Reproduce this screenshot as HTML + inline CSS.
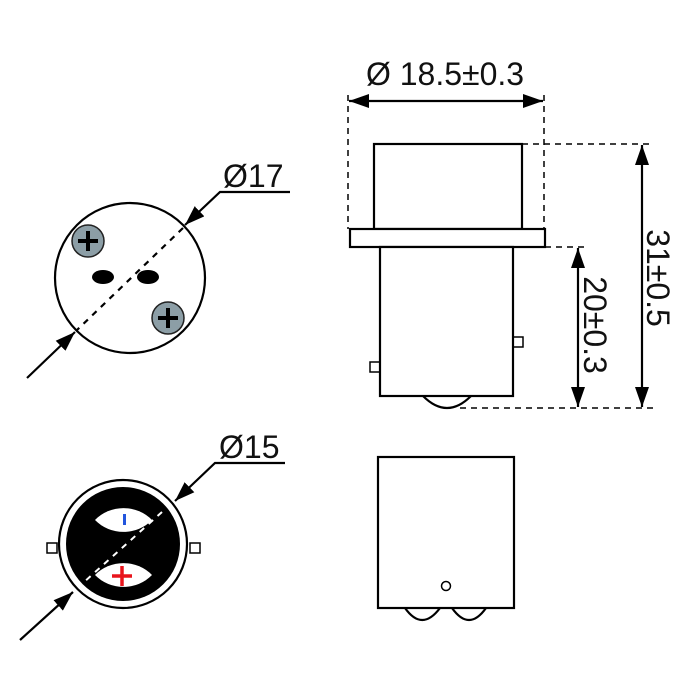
<!DOCTYPE html>
<html><head><style>body{margin:0;background:#fff}svg{display:block}text{font-family:"Liberation Sans",sans-serif;fill:#111}</style></head>
<body>
<svg width="700" height="700" viewBox="0 0 700 700" xmlns="http://www.w3.org/2000/svg">
<defs>
<marker id="b" viewBox="0 0 20 14" refX="20" refY="7" markerWidth="20" markerHeight="14" markerUnits="userSpaceOnUse" orient="auto-start-reverse"><path d="M0,0 L20,7 L0,14 z" fill="#000"/></marker>
</defs>
<g stroke="#000" stroke-width="2.2" fill="none">
<circle cx="130" cy="278" r="75"/>
<line x1="183" y1="228" x2="77" y2="330" stroke-dasharray="6,6"/>
<polyline points="290,192 220,192 185,225" marker-end="url(#b)"/>
<line x1="27" y1="378" x2="75" y2="332" marker-end="url(#b)"/>
</g>
<g stroke="#222" stroke-width="1.5">
<circle cx="88" cy="241" r="16" fill="#8c9ea6"/>
<circle cx="168" cy="318" r="16" fill="#8c9ea6"/>
</g>
<g stroke="#000" stroke-width="4">
<line x1="78" y1="241" x2="98" y2="241"/><line x1="88" y1="231" x2="88" y2="251"/>
<line x1="158" y1="318" x2="178" y2="318"/><line x1="168" y1="308" x2="168" y2="328"/>
</g>
<ellipse cx="103" cy="277" rx="11" ry="7" fill="#000"/>
<ellipse cx="148" cy="277" rx="11" ry="7" fill="#000"/>
<text x="223" y="187" font-size="32">Ø17</text>

<g stroke="#000" stroke-width="2.2" fill="#fff">
<rect x="47" y="543" width="10" height="10" stroke-width="1.5"/>
<rect x="190" y="543" width="10" height="10" stroke-width="1.5"/>
<circle cx="123" cy="544" r="64"/>
</g>
<circle cx="123" cy="544" r="57" fill="#000"/>
<path d="M95,520 A40,40 0 0 1 152,520 A40,40 0 0 1 95,520 z" fill="#fff"/>
<path d="M95,575 A40,40 0 0 1 152,575 A40,40 0 0 1 95,575 z" fill="#fff"/>
<rect x="123" y="514" width="3" height="11" fill="#2255dd"/>
<g stroke="#e8141c" stroke-width="3.5"><line x1="112" y1="576" x2="132" y2="576"/><line x1="122" y1="566" x2="122" y2="586"/></g>
<line x1="162" y1="512" x2="83" y2="583" stroke="#fff" stroke-width="2" stroke-dasharray="6,6"/>
<g stroke="#000" stroke-width="2.2" fill="none">
<polyline points="285,463 215,463 175,501" marker-end="url(#b)"/>
<line x1="20" y1="640" x2="73" y2="592" marker-end="url(#b)"/>
</g>
<text x="219" y="458" font-size="32">Ø15</text>

<g stroke="#000" stroke-width="2.2" fill="#fff">
<rect x="374" y="144" width="148" height="85"/>
<rect x="350" y="229" width="195" height="18"/>
<rect x="370" y="362" width="10" height="10" stroke-width="1.5"/>
<rect x="513" y="337" width="10" height="10" stroke-width="1.5"/>
<path d="M423,396 Q447,420 471,396"/>
<rect x="380" y="247" width="133" height="149"/>
</g>
<g stroke="#000" stroke-width="1.5" fill="none" stroke-dasharray="6,5">
<line x1="348" y1="95" x2="348" y2="229"/>
<line x1="544" y1="95" x2="544" y2="229"/>
<line x1="522" y1="144" x2="652" y2="144"/>
<line x1="545" y1="247" x2="585" y2="247"/>
<line x1="460" y1="408" x2="655" y2="408"/>
</g>
<g stroke="#000" stroke-width="2.2">
<line x1="349" y1="101" x2="543" y2="101" marker-start="url(#b)" marker-end="url(#b)"/>
<line x1="642" y1="145" x2="642" y2="407" marker-start="url(#b)" marker-end="url(#b)"/>
<line x1="578" y1="248" x2="578" y2="407" marker-start="url(#b)" marker-end="url(#b)"/>
</g>
<text x="445" y="85" font-size="32" text-anchor="middle">Ø 18.5±0.3</text>
<text transform="translate(647,278) rotate(90)" font-size="32" text-anchor="middle">31±0.5</text>
<text transform="translate(584,325) rotate(90)" font-size="32" text-anchor="middle">20±0.3</text>

<g stroke="#000" stroke-width="2.2" fill="#fff">
<path d="M405,608 Q422,632 440,608"/>
<path d="M452,608 Q469,632 486,608"/>
<rect x="378" y="457" width="136" height="151"/>
<circle cx="446" cy="586" r="4.5" stroke-width="1.5"/>
</g>
</svg>
</body></html>
